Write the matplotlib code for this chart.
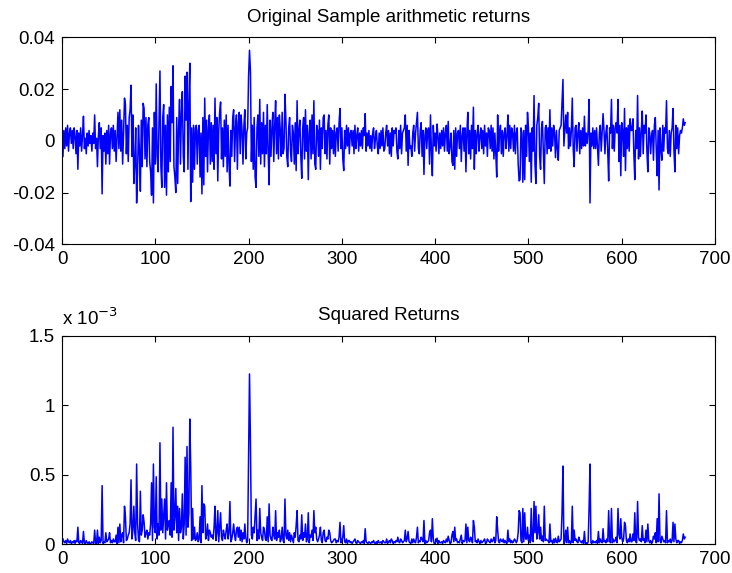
import numpy as np
import matplotlib
matplotlib.use("Agg")
import matplotlib.pyplot as plt

FS = 13.5
LW = 1.1
matplotlib.rcParams['font.family'] = 'Liberation Sans'
matplotlib.rcParams['axes.linewidth'] = 0.8

# daily arithmetic returns (units of 1e-3)
returns_milli = [
    -6, 4, -3, 5, -2, 6, -4, 3, 5, -1,
    4, -3, 5, 2, -5, 4, -11, 3, -2, 5,
    -4, 2, 9.5, -3, 1, -5, 3, -2, 4, -1,
    2, -4, 3, -1, 10, -3, 1, -10, 2, 7,
    -3, 5, -20.5, 2, -4, 3, -9, 4, -5, 6,
    -9, 3, 5, -3, 6, -4, 4, -8, 2, 11,
    -3, 12, -4, 8, -9, 3, 16.5, 14, -5, 6,
    -8, 9, 12, 21.5, -6, 10, -16.5, -9, 5, -24,
    -12, 6, -4, -19.5, 8, -10, 14.5, 12.5, -7, 9,
    -10, 6, 9, -8, -12, -21, 5, -24, 11, -9,
    22, -6, -12, 8, 27, -10, -18, 9, 14, -18,
    6, -21, 10, -12, 13, -8, 21, 7, 29, -10,
    -14, -20, 9, -16.5, 5, 16, -9, 11, 19, -6,
    -12, 25, 8, 26.5, -11, 15, 30, -23.5, 5, -16,
    6, -11, 5, 6, -9, 4, 6, -14, 3, -20.5,
    9, -17, 16.5, -6, 8, -12, 5, 10, -9, 7,
    -8, 6, -11, 16.5, -5, 9, -15.5, 4, 11, 15,
    -7, 5, -10, 8, -6, 10, -12, 6, -9, -17.5,
    4, -6, 9, 12, -8, 5, 10, -11, 7, 11,
    -5, 10, 4, -9, 6, 12, -7, 3, 5, 25,
    35, 27, -8, 6, -11, 9, -14, -18, 5, 10,
    -6, 16, -9, 7, -5, 11, -10, 6, -5, 14,
    -4, -17, 8, -6, 5, 11, -8, 6, 15.5, -5,
    9, -7, 10, 4, -6, 11, -5, -3, 18, 8,
    -6, -10, 5, 9, -4, -8, 6, 3, -9, 7,
    -11.5, 15.5, -5, 4, 8, -6, -14.5, 5, 9, -7,
    12, -4, 6, -15, 3, 8, -7, 10, -5, 15.5,
    -9, -11, 6, 4, -6, 8, -11, 5, -3, 9,
    10, -5, 4, -7, 6, 10, -9, 5, -3, 4,
    -5, 6, -6, 3, 5, -4, 7, 12.5, -3, 5,
    -7, -11.5, 4, -3, 6, -2, 5, -5, 3, 4,
    -2, 4, -5, 6, -3, 2, 5, -4, 3, -2,
    4, -3, 5, 2, 10.5, -4, 3, -2, 4, -3,
    2, -4, 3, 5, -3, 1, 4, -2, -5, 3,
    -3, 4, -2, 5, -4, -3, 3, 6, -2, 4,
    -5, 3, -6, 5, -2, 4, 3, 5, -4, -7,
    4, -3, 6, -5, 3, 4, 5, 10, -4, 6,
    -9.5, 4, -3, -2, -6, 3, 6, -4, 3, 7,
    11, -3, -5, 4, 7, -6, 4, -13, 2, 5,
    -3, 4, 5, -9, 10, -4, -13.5, 6, -2, 3,
    -4, 6.5, 2, -5, 3, -3, 4, -2, 5, -4,
    3, 6, -4, 7.5, -5, -2, 3, -8, -9.5, 4,
    -11, 5, -6, 3, 4, -3, 6, -8, 2, 5,
    -4, 5, -12, 3, 11, -5, 4, -7, 6, -3,
    13, -11, 4, -5, 3, 6, -4, 2, 5, -3,
    4, -5, 6, -2, 3, -6, 5, 4, -3, 6,
    -4, 5, -7, 3, -5, -14, 10, -4, 3, 6,
    -5, 4, -6, 3, 5, -3, 2, 10, -4, 6,
    -3, 5, 3, -4, 6, -5, 3, 5, -9, -15.5,
    -15, 5, 3, -16, 4, -15, 6, -6, 11, 5,
    -8, 3, -16, 5, -4, 17.5, -9, -16.5, 6, 9,
    14.5, -6, -11, 5, 7.5, -4, -16.5, 5, 6, -5,
    5, -3, 12, -4, 5, -2, 6, 3, -6.5, 4,
    -3, -7.5, 4, 5, 6, 15, 23.7, -2, 4, 10,
    3, 11, -3, 5, -2, 4, 16.5, -3, -10, 5,
    6, -4, 3, 7, -5, 4, -3, 5, -2, 9.5,
    -2, 3, -1, 4, 16, -24, 3, -2, 5, -3,
    4, -3, 5, -2, -9.5, 3, 6, -4, 3, 10.5,
    4, -5, 3, 6, -4, -15.5, 5, 3, 16, -3,
    6, -4, 5, 7, 3, 16, -8, 6, -13.5, 7,
    4, -6, 12.5, -11.5, 5, -3, 6, -4, 8.5, 4,
    4, 8.5, -5, -15, 4, -3, 17.5, -7, 5, -6,
    4, 11.5, -5, 6, 3, 10, -4, -12, 5, 3,
    -5, 2, 4, -7.5, 6, 9, -3, -13.5, 4, -19,
    5, -3, -7.5, 6, -4, 5, 3, 15.5, -3, -5,
    4, -6, 3, 5, 12.5, -4, -12, 6, -3, 5,
    -5, 2, 4, 3, 5, 8.5, 6, 7,
]
returns = np.array(returns_milli) * 1e-3
days = np.arange(1, len(returns) + 1)
squared = returns ** 2

xticks = [0, 100, 200, 300, 400, 500, 600, 700]
top_yticks = [-0.04, -0.02, 0, 0.02, 0.04]
top_ylabels = ["-0.04", "-0.02", "0", "0.02", "0.04"]
bot_yticks = [0, 0.5e-3, 1e-3, 1.5e-3]
bot_ylabels = ["0", "0.5", "1", "1.5"]

BLUE = '#0000FF'

fig = plt.figure(figsize=(7.32, 5.73), dpi=100)
ax1 = fig.add_axes([0.0847, 0.5736, 0.8921, 0.3613])
ax2 = fig.add_axes([0.0847, 0.0506, 0.8921, 0.3635])

ax1.plot(days, returns, color=BLUE, linewidth=LW)
ax1.set_xlim([0, 700])
ax1.set_ylim([-0.04, 0.04])
ax1.set_yticks(top_yticks)
ax1.set_yticklabels(top_ylabels)
ax1.set_title('Original Sample arithmetic returns', fontsize=FS, pad=11)

ax2.plot(days, squared, color=BLUE, linewidth=LW)
ax2.set_xlim([0, 700])
ax2.set_ylim([0, 1.5e-3])
ax2.set_yticks(bot_yticks)
ax2.set_yticklabels(bot_ylabels)
ax2.set_title('Squared Returns', fontsize=FS, pad=11)
# MATLAB style exponent label above the y axis
ax2.annotate(r'x 10$^{-3}$', xy=(0, 1), xycoords='axes fraction',
             xytext=(0, 8), textcoords='offset points', fontsize=FS,
             ha='left', va='baseline')

for ax in (ax1, ax2):
    ax.set_xticks(xticks)
    ax.set_xticklabels([str(t) for t in xticks])
    ax.tick_params(direction='in', top=True, right=True, length=4.5, width=0.8,
                   labelsize=FS, pad=5)

plt.savefig("out.png", dpi=100)
